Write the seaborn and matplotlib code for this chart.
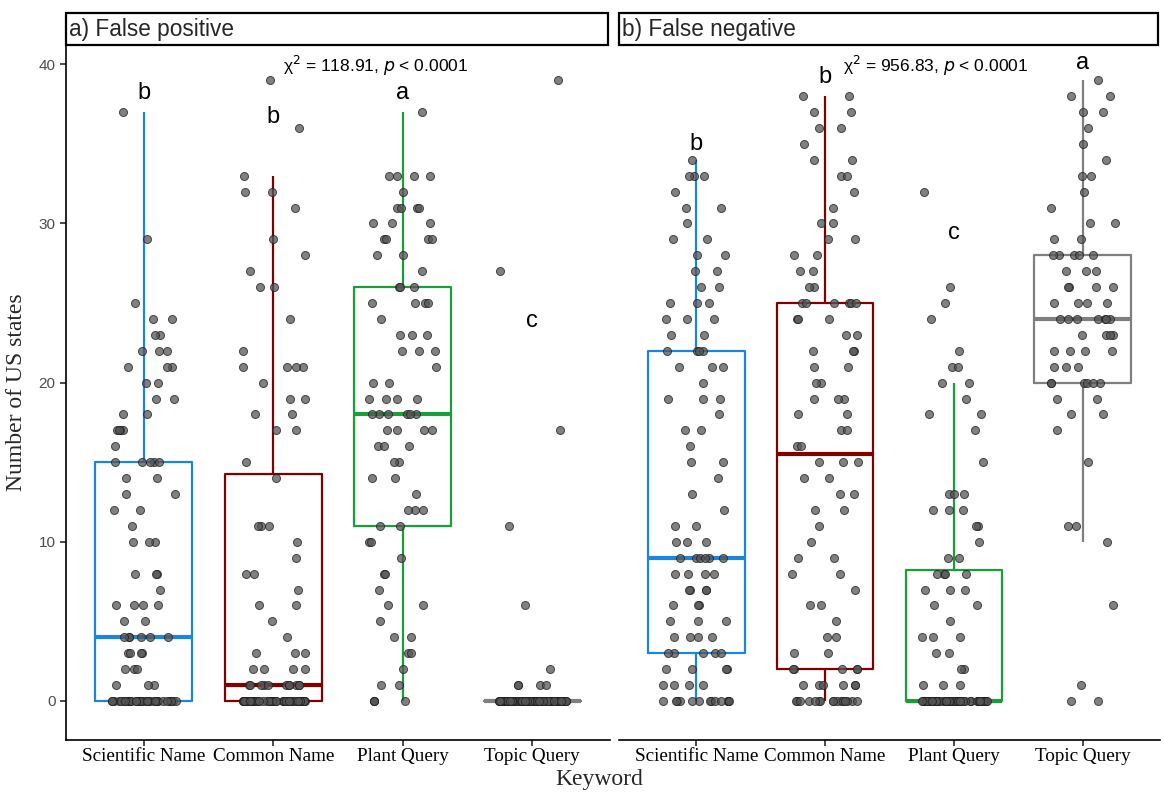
import matplotlib
matplotlib.use("Agg")
import matplotlib.pyplot as plt
from matplotlib.patches import Rectangle
import numpy as np
import pandas as pd
import seaborn as sns

sns.set_theme(style="white")
plt.rcParams['font.family'] = ['Liberation Sans', 'DejaVu Sans']

keywords = ["Scientific Name", "Common Name", "Plant Query", "Topic Query"]
box_colors = ["#1a86e0", "#800000", "#1a9e3a", "#7f7f7f"]

# a) false positive: number of US states per species, by keyword type
fp_scientific = [0]*35 + [1]*3 + [2]*3 + [3]*4 + [4]*6 + [5]*2 + [6]*4 + [7] + [8]*3 + [10]*3 + [11] + \
    [12]*2 + [13]*2 + [14]*2 + [15]*5 + [16, 17, 17, 17, 17, 18, 18, 19, 19, 20, 20, 21, 21, 21, 22, 22, 22,
                                        23, 23, 24, 24, 25, 29, 37]
fp_common = [0]*44 + [1]*11 + [2, 2, 2, 2, 3, 3, 3, 4, 5, 6, 6, 7, 8, 8, 9, 10, 11, 11, 11, 14] + \
    [15, 17, 17, 18, 18, 19, 19, 20, 21, 21, 21, 21, 22, 24, 26, 26, 27, 28, 29, 31, 32, 32, 33, 36, 39]
fp_plant = [0, 0, 0, 0, 1, 1, 2, 3, 3, 4, 4, 5, 6, 6, 7, 8, 8, 9, 10, 10, 11, 11, 12, 12, 12, 13, 14, 14, 15,
            15, 16, 16, 16, 17, 17, 17, 17, 18, 18, 18, 18, 18, 18, 19, 19, 19, 19, 20, 20, 21, 22, 22, 22,
            23, 23, 23, 24, 25, 25, 25, 25, 26, 26, 26, 27, 28, 28, 29, 29, 29, 29, 30, 30, 30, 31, 31, 31,
            31, 32, 33, 33, 33, 33, 37]
fp_topic = [0]*90 + [1, 1, 1, 1, 2, 6, 11, 17, 27, 39]

# b) false negative
fn_scientific = [0]*14 + [1]*4 + [2]*4 + [3]*5 + [4]*4 + [5]*3 + [6]*3 + [7]*4 + [8]*4 + [9]*6 + \
    [10]*3 + [11]*2 + [12, 13, 14, 15, 15, 16, 17, 17, 18, 19, 19, 19, 20, 21, 21, 21] + [22]*4 + \
    [23, 23, 24, 24, 24, 25, 25, 25, 26, 26, 27, 27, 28, 28, 29, 29, 30, 31, 31, 32, 33, 33, 33, 34]
fn_common = [0]*16 + [1]*6 + [2]*5 + [3, 3, 4, 4, 5, 6, 6, 7, 8, 8, 9, 9, 10, 11, 12, 12, 13, 13, 14, 14,
                                    15, 15, 15] + \
    [16, 16, 17, 17, 18, 18, 19, 19, 19, 20, 20, 21, 21, 22, 22, 22, 23, 23, 24, 24, 24, 25, 25, 25, 25, 25] + \
    [25, 26, 26, 27, 27, 28, 28, 29, 29, 30, 30, 31, 32, 33, 33, 34, 34, 35, 36, 36, 37, 37, 38, 38]
fn_plant = [0]*55 + [1, 1, 1, 2, 2, 3, 3, 4, 4, 4, 5, 6, 6, 7, 7, 7, 8, 8, 8, 8, 9] + \
    [9, 10, 11, 11, 12, 12, 12, 13, 13, 13, 15, 17, 18, 18, 19, 20, 20, 21, 21, 22, 24, 25, 26, 32]
fn_topic = [0, 0, 1, 6, 10, 11, 11, 15, 17, 18, 18, 19, 19, 20, 20, 20, 20, 20, 20, 21, 21, 21, 22, 22, 22,
            22, 23, 23, 23, 23, 24, 24, 24, 24, 24, 24, 24, 25, 25, 25, 25, 26, 26, 26, 26, 27, 27, 27, 28,
            28, 28, 28, 28, 29, 29, 30, 30, 31, 32, 33, 33, 34, 35, 36, 37, 37, 38, 38, 39]

panels = [
    ("a) False positive", [fp_scientific, fp_common, fp_plant, fp_topic],
     ["b", "b", "a", "c"], [38.2, 36.7, 38.2, 23.9], "118.91", 1.79),
    ("b) False negative", [fn_scientific, fn_common, fn_plant, fn_topic],
     ["b", "b", "c", "a"], [35.0, 39.2, 29.4, 40.1], "956.83", 1.86),
]

fig = plt.figure(figsize=(11.64, 7.95), dpi=100)
ax_pos = [[0.0567, 0.0692, 0.4674, 0.874], [0.5318, 0.0692, 0.4648, 0.874]]

for i, (title, groups, letters, letter_y, chi, chi_x) in enumerate(panels):
    ax = fig.add_axes(ax_pos[i])
    df = pd.DataFrame({
        "keyword": np.concatenate([[k]*len(g) for k, g in zip(keywords, groups)]),
        "n": np.concatenate(groups),
    })
    sns.boxplot(data=df, x="keyword", y="n", hue="keyword", order=keywords, hue_order=keywords,
                palette=box_colors, fill=False, showfliers=False, showcaps=False, width=0.75,
                linewidth=1.6, medianprops=dict(linewidth=3), legend=False, ax=ax)
    np.random.seed(3 + i)
    sns.stripplot(data=df, x="keyword", y="n", order=keywords, color="#555555", alpha=0.75,
                  jitter=0.26, size=5.8, edgecolor="#1e1e1e", linewidth=0.7, ax=ax, zorder=5)

    ax.set_xlim(-0.6, 3.6)
    ax.set_ylim(-2.45, 41.2)
    ax.set_xlabel("")
    ax.set_ylabel("")
    for s in ["top", "right"]:
        ax.spines[s].set_visible(False)
    ax.spines["bottom"].set_color("black")
    ax.spines["bottom"].set_linewidth(1.2)
    ax.set_xticks(range(4))
    ax.set_xticklabels(keywords, family="Liberation Serif", fontsize=13.8, color="black")
    ax.tick_params(axis="x", length=4, color="#333333", bottom=True, pad=1.5)
    if i == 0:
        ax.spines["left"].set_color("black")
        ax.spines["left"].set_linewidth(1.2)
        ax.set_yticks([0, 10, 20, 30, 40])
        ax.tick_params(axis="y", length=4, color="#333333", left=True, labelsize=11, labelcolor="#4d4d4d")
        ax.set_ylabel("Number of US states", family="Liberation Serif", fontsize=17, labelpad=8)
    else:
        ax.spines["left"].set_visible(False)
        ax.set_yticks([])

    for j, (lt, ly) in enumerate(zip(letters, letter_y)):
        ax.text(j, ly, lt, ha="center", va="center", fontsize=17, color="black")
    ax.text(chi_x, 39.9, "\u03c7$^2$ = " + chi + ", $\\mathit{p}$ < 0.0001", ha="center", va="center",
            fontsize=12.5, color="black")

    # facet strip
    ax.add_patch(Rectangle((0, 1.0), 0.997, 0.046, transform=ax.transAxes, facecolor="white",
                           edgecolor="black", linewidth=1.6, clip_on=False))
    ax.text(0.006, 1.023, title, transform=ax.transAxes, ha="left", va="center", fontsize=16.3)

fig.text(0.515, 0.02, "Keyword", ha="center", va="center", family="Liberation Serif", fontsize=17)

fig.savefig("out.png", dpi=100)
